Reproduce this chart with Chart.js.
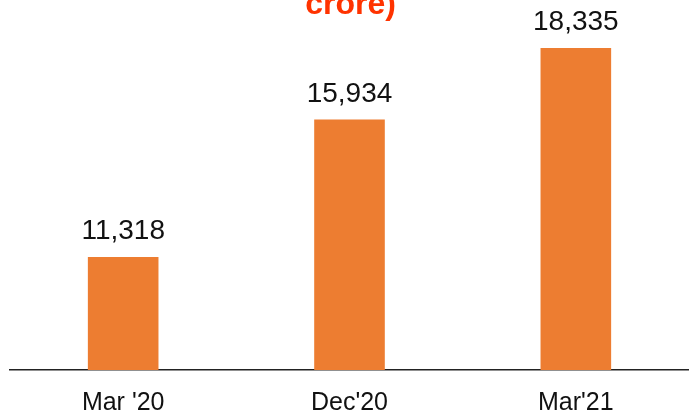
<!DOCTYPE html>
<html><head><meta charset="utf-8">
<script src="https://cdn.jsdelivr.net/npm/chart.js@4.4.0/dist/chart.umd.min.js"></script>
<style>html,body{margin:0;padding:0;background:#fff;}#wrap{width:689px;height:416px;position:relative;}</style>
</head><body><div id="wrap"><canvas id="c"></canvas></div>
<script>
const categories = ["Mar '20", "Dec'20", "Mar'21"];
const values = [11318, 15934, 18335];
const valueLabels = ["11,318", "15,934", "18,335"];
const titleText = "crore)";

const labelPlugin = {
  id: 'valLabels',
  afterDatasetsDraw(chart) {
    const ctx = chart.ctx;
    const meta = chart.getDatasetMeta(0);
    ctx.save();
    ctx.font = '28px "Liberation Sans", Arial, sans-serif';
    ctx.fillStyle = '#111';
    ctx.textAlign = 'center';
    ctx.textBaseline = 'alphabetic';
    meta.data.forEach((bar, i) => {
      ctx.fillText(valueLabels[i], bar.x, bar.y - 18);
    });
    ctx.restore();
  }
};

new Chart(document.getElementById('c'), {
  type: 'bar',
  data: { labels: categories, datasets: [{ data: values, backgroundColor: '#ED7D31', borderWidth: 0,
    categoryPercentage: 1, barPercentage: 0.312 }] },
  options: {
    responsive: true, maintainAspectRatio: false, animation: false,
    layout: { padding: { left: 10, right: -2, top: 0, bottom: -20 } },
    plugins: {
      legend: { display: false }, tooltip: { enabled: false },
      title: { display: true, text: titleText, color: '#FF3300',
        font: { family: '"Liberation Sans", Arial, sans-serif', size: 32, weight: 'bold', lineHeight: 1 },
        padding: { top: -11, bottom: 0 } }
    },
    scales: {
      x: { grid: { display: false, drawTicks: false },
        border: { display: true, color: '#222', width: 1.5 },
        ticks: { color: '#111', padding: 18, font: { family: '"Liberation Sans", Arial, sans-serif', size: 25 } } },
      y: { display: false, min: 7524, max: 19242 }
    }
  },
  plugins: [labelPlugin]
});
</script></body></html>
